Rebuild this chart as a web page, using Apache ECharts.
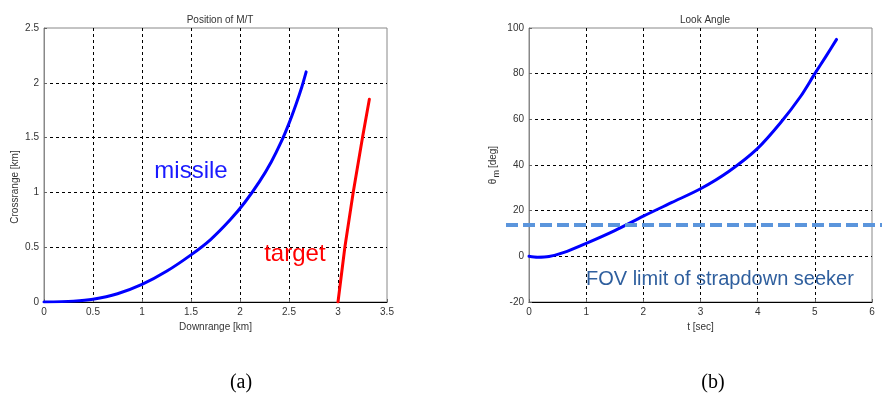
<!DOCTYPE html>
<html><head><meta charset="utf-8">
<script src="https://cdn.jsdelivr.net/npm/echarts@6/dist/echarts.min.js"></script>
<style>html,body{margin:0;padding:0;background:#fff}#c{width:882px;height:403px}</style>
</head><body><div id="c"></div>
<script>
// ---- data ----
const missileX = [0, 0.3, 0.5, 0.75, 1.0, 1.25, 1.5, 1.7, 1.9, 2.05, 2.2, 2.32, 2.42, 2.5, 2.57, 2.63, 2.675];
const missileY = [0, 0.008, 0.025, 0.075, 0.16, 0.28, 0.43, 0.57, 0.75, 0.91, 1.1, 1.28, 1.46, 1.63, 1.8, 1.96, 2.1];
const targetX = [3.0, 3.07, 3.155, 3.25, 3.32];
const targetY = [0, 0.5, 1.0, 1.5, 1.85];
const lookT = [0, 0.15, 0.35, 0.6, 1.0, 1.5, 2.0, 2.5, 3.0, 3.5, 4.0, 4.4, 4.75, 5.0, 5.2, 5.38];
const lookTheta = [0, -0.4, -0.1, 1.6, 5.7, 11.3, 17.6, 23.6, 29.6, 37.3, 47.3, 58.5, 70, 80, 87.8, 95];
const fovLimit = 13.7;
const leftXRange = [0, 3.5, 0.5];
const leftYRange = [0, 2.5, 0.5];
const rightXRange = [0, 6, 1];
const rightYRange = [-20, 100, 20];
const labelMissile = [1.5, 1.19];
const labelTarget = [2.56, 0.43];
const labelFov = [3.34, -10];

const zip = (a, b) => a.map((v, i) => [v, b[i]]);
const FONT = 'Liberation Sans';

function valAxis(range, grid, opts) {
  return Object.assign({
    type: 'value', gridIndex: grid,
    min: range[0], max: range[1], interval: range[2],
    axisLine: { show: true, onZero: false, lineStyle: { color: '#000', width: 1 } },
    axisTick: { show: true, inside: true, length: 3, lineStyle: { color: '#666' } },
    axisLabel: { color: '#333', fontSize: 10, fontFamily: FONT, margin: 5 },
    splitLine: { show: true, showMinLine: false, showMaxLine: false,
      lineStyle: { color: '#000', width: 1, type: [3, 3] } },
    nameLocation: 'middle',
    nameTextStyle: { color: '#333', fontSize: 10, fontFamily: FONT }
  }, opts);
}

const chart = echarts.init(document.getElementById('c'), null, { renderer: 'canvas' });
const option = {
  animation: false,
  backgroundColor: '#fff',
  title: [
    { text: 'Position of M/T', left: 215, top: 10, textAlign: 'center',
      textStyle: { fontSize: 10, fontWeight: 'normal', color: '#333', fontFamily: FONT } },
    { text: 'Look Angle', left: 700, top: 10, textAlign: 'center',
      textStyle: { fontSize: 10, fontWeight: 'normal', color: '#333', fontFamily: FONT } }
  ],
  grid: [
    { left: 44, top: 28, width: 343, height: 274, show: true, borderColor: '#888', borderWidth: 1 },
    { left: 529, top: 28, width: 343, height: 274, show: true, borderColor: '#888', borderWidth: 1 }
  ],
  xAxis: [
    valAxis(leftXRange, 0, { name: 'Downrange [km]', nameGap: 18 }),
    valAxis(rightXRange, 1, { name: 't [sec]', nameGap: 18 })
  ],
  yAxis: [
    valAxis(leftYRange, 0, { name: 'Crossrange [km]', nameGap: 24,
      axisLine: { show: true, onZero: false, lineStyle: { color: '#888', width: 1 } },
      nameTextStyle: { color: '#333', fontSize: 10, fontFamily: FONT, padding: [0, 44, 0, 0] } }),
    valAxis(rightYRange, 1, { name: '{t|θ}{s|m}{t|[deg]}', nameGap: 28,
      axisLine: { show: true, onZero: false, lineStyle: { color: '#888', width: 1 } },
      nameTextStyle: { color: '#333', fontSize: 10, fontFamily: FONT, lineHeight: 16,
        rich: { t: { fontSize: 10, color: '#333', fontFamily: FONT, verticalAlign: 'middle' },
                s: { fontSize: 9, color: '#333', fontFamily: FONT, verticalAlign: 'bottom', padding: [0, 2, 0, 1] } } } })
  ],
  series: [
    { type: 'line', xAxisIndex: 0, yAxisIndex: 0, data: zip(missileX, missileY), smooth: 0.3,
      showSymbol: false, lineStyle: { color: '#0000ff', width: 3, join: 'round', cap: 'round' }, z: 5 },
    { type: 'line', xAxisIndex: 0, yAxisIndex: 0, data: zip(targetX, targetY), smooth: false,
      showSymbol: false, lineStyle: { color: '#ff0000', width: 3, join: 'round', cap: 'round' }, z: 5 },
    { type: 'line', xAxisIndex: 1, yAxisIndex: 1, data: zip(lookT, lookTheta), smooth: 0.3,
      showSymbol: false, lineStyle: { color: '#0000ff', width: 3, join: 'round', cap: 'round' }, z: 5 }
  ]
};
chart.setOption(option);

const pM = chart.convertToPixel({ gridIndex: 0 }, labelMissile);
const pT = chart.convertToPixel({ gridIndex: 0 }, labelTarget);
const pF = chart.convertToPixel({ gridIndex: 1 }, labelFov);
const yFov = chart.convertToPixel({ gridIndex: 1 }, [0, fovLimit])[1];

chart.setOption({
  graphic: [
    { type: 'text', x: pM[0], y: pM[1], z: 10,
      style: { text: 'missile', fill: '#1a1aff', font: '24px "Liberation Sans"', align: 'center', verticalAlign: 'middle' } },
    { type: 'text', x: pT[0], y: pT[1], z: 10,
      style: { text: 'target', fill: '#ff0000', font: '24px "Liberation Sans"', align: 'center', verticalAlign: 'middle' } },
    { type: 'text', x: pF[0], y: pF[1], z: 10,
      style: { text: 'FOV limit of strapdown seeker', fill: '#2f5f9e', font: '20px "Liberation Sans"', align: 'center', verticalAlign: 'middle' } },
    { type: 'line', z: 10, shape: { x1: 506, y1: yFov, x2: 882, y2: yFov },
      style: { stroke: '#5b95dc', lineWidth: 4, lineDash: [12, 5] } },
    { type: 'text', x: 241, y: 383, z: 10,
      style: { text: '(a)', fill: '#000', font: '20px "Liberation Serif"', align: 'center', verticalAlign: 'middle' } },
    { type: 'text', x: 713, y: 383, z: 10,
      style: { text: '(b)', fill: '#000', font: '20px "Liberation Serif"', align: 'center', verticalAlign: 'middle' } }
  ]
});
</script></body></html>
